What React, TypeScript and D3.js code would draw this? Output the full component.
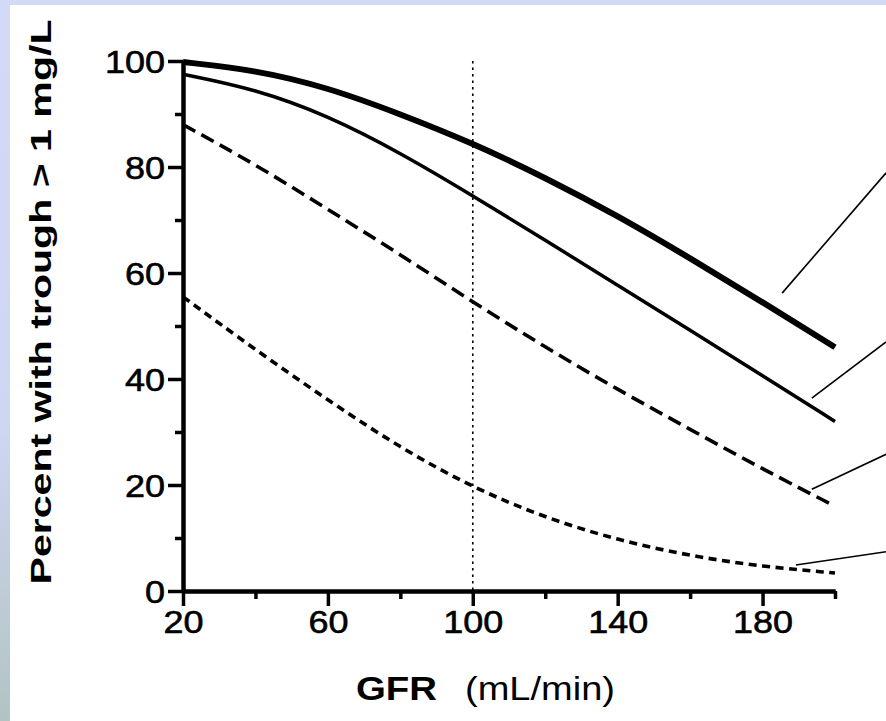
import React, { useEffect, useRef } from "react";
import * as d3 from "d3";

// GFR values (x) and percent with trough > 1 mg/L for the four curves
const gfr = [20, 40, 60, 80, 100, 120, 140, 160, 180, 200];
const thickLine = [99.8, 98.3, 95, 90, 84.5, 78, 70.8, 62.8, 54.5, 46];
const thinLine = [97.5, 94.7, 89.7, 82.7, 74.6, 66.2, 57.7, 49.2, 40.6, 32];
const dashedLine = [88, 80.5, 72, 63.5, 54.5, 46, 38, 30.5, 23, 16];
const dottedLine = [55.5, 45.5, 36, 27, 19.5, 13.8, 9.6, 6.6, 4.6, 3.4];

const xMajorTicks = [20, 60, 100, 140, 180];
const xMinorTicks = [40, 80, 120, 160, 200];
const yMajorTicks = [0, 20, 40, 60, 80, 100];
const yMinorTicks = [10, 30, 50, 70, 90];

// leader lines for the (off-picture) labels, in data units
const leaders = [
  [[185.4, 56.2], [214.1, 78.9]],
  [[193.6, 36.4], [214.1, 47.0]],
  [[193.6, 19.2], [214.1, 25.8]],
  [[189.2, 4.9], [214.1, 7.4]],
];

const W = 886;
const H = 721;

const App = () => {
  const ref = useRef<SVGSVGElement>(null);

  useEffect(() => {
    const svg = d3.select(ref.current);
    svg.selectAll("*").remove();

    const font = "'Liberation Sans', Arial, Helvetica, sans-serif";

    // backdrop
    const grad = svg.append("defs").append("linearGradient")
      .attr("id", "side").attr("x1", 0).attr("y1", 0).attr("x2", 0).attr("y2", 1);
    grad.append("stop").attr("offset", "0%").attr("stop-color", "#d3daf8");
    grad.append("stop").attr("offset", "60%").attr("stop-color", "#cdd6f2");
    grad.append("stop").attr("offset", "100%").attr("stop-color", "#b3c3c3");
    svg.append("rect").attr("width", W).attr("height", H).attr("fill", "#fff");
    svg.append("rect").attr("width", W).attr("height", 5).attr("fill", "#d3daf8");
    svg.append("rect").attr("width", 10).attr("height", H).attr("fill", "url(#side)");

    const x = d3.scaleLinear().domain([20, 200]).range([183, 835]);
    const y = d3.scaleLinear().domain([0, 100]).range([591, 61]);

    // vertical reference line at GFR 100
    svg.append("line")
      .attr("x1", x(100)).attr("x2", x(100))
      .attr("y1", y(100)).attr("y2", y(0))
      .attr("stroke", "#000").attr("stroke-width", 1.6)
      .attr("stroke-dasharray", "2.5,4");

    const line = d3.line<number>()
      .x((d, i) => x(gfr[i]))
      .y((d) => y(d))
      .curve(d3.curveBasis);

    const series = [
      { data: thickLine, width: 6, dash: null },
      { data: thinLine, width: 3.5, dash: null },
      { data: dashedLine, width: 3.6, dash: "14,7" },
      { data: dottedLine, width: 3.6, dash: "8,5.5" },
    ];
    series.forEach((s) => {
      svg.append("path")
        .attr("d", line(s.data))
        .attr("fill", "none")
        .attr("stroke", "#000")
        .attr("stroke-width", s.width)
        .attr("stroke-dasharray", s.dash);
    });

    // leader lines
    leaders.forEach((l) => {
      svg.append("line")
        .attr("x1", x(l[0][0])).attr("y1", y(l[0][1]))
        .attr("x2", x(l[1][0])).attr("y2", y(l[1][1]))
        .attr("stroke", "#000").attr("stroke-width", 1.6);
    });

    // axes
    const styleAxis = (g) => {
      g.select(".domain").attr("stroke-width", 4);
      g.selectAll(".tick line").attr("stroke-width", 3.5);
      g.selectAll(".tick text").remove();
    };

    svg.append("g").attr("transform", `translate(0,${y(0)})`)
      .call(d3.axisBottom(x).tickValues(xMinorTicks).tickSize(8).tickSizeOuter(0))
      .call(styleAxis);
    const xMaj = svg.append("g").attr("transform", `translate(0,${y(0)})`)
      .call(d3.axisBottom(x).tickValues(xMajorTicks).tickSize(15).tickSizeOuter(0));
    xMaj.select(".domain").attr("stroke-width", 4);
    xMaj.selectAll(".tick line").attr("stroke-width", 3.5);

    svg.append("g").attr("transform", `translate(${x(20)},0)`)
      .call(d3.axisLeft(y).tickValues(yMinorTicks).tickSize(8).tickSizeOuter(0))
      .call(styleAxis);
    const yMaj = svg.append("g").attr("transform", `translate(${x(20)},0)`)
      .call(d3.axisLeft(y).tickValues(yMajorTicks).tickSize(15).tickSizeOuter(0));
    yMaj.select(".domain").attr("stroke-width", 4);
    yMaj.selectAll(".tick line").attr("stroke-width", 3.5);

    xMaj.selectAll(".tick text")
      .attr("font-family", font).attr("font-size", 32).attr("fill", "#000")
      .attr("stroke", "#000").attr("stroke-width", 0.6)
      .attr("dy", null).attr("y", 42)
      .attr("textLength", (d) => String(d).length * 20)
      .attr("lengthAdjust", "spacingAndGlyphs");
    yMaj.selectAll(".tick text")
      .attr("font-family", font).attr("font-size", 32).attr("fill", "#000")
      .attr("stroke", "#000").attr("stroke-width", 0.6)
      .attr("x", -18).attr("dy", "0.36em")
      .attr("textLength", (d) => String(d).length * 20)
      .attr("lengthAdjust", "spacingAndGlyphs");

    // axis titles
    svg.append("text")
      .attr("transform", "translate(51,302) rotate(-90)")
      .attr("text-anchor", "middle")
      .attr("font-family", font).attr("font-size", 30).attr("font-weight", "bold")
      .attr("textLength", 565).attr("lengthAdjust", "spacingAndGlyphs")
      .text("Percent with trough > 1 mg/L");

    svg.append("text")
      .attr("x", 356).attr("y", 700)
      .attr("font-family", font).attr("font-size", 34).attr("font-weight", "bold")
      .attr("textLength", 81).attr("lengthAdjust", "spacingAndGlyphs")
      .text("GFR");
    svg.append("text")
      .attr("x", 465).attr("y", 700)
      .attr("font-family", font).attr("font-size", 33)
      .attr("textLength", 150).attr("lengthAdjust", "spacingAndGlyphs")
      .text("(mL/min)");
  }, []);

  return (
    <svg
      ref={ref}
      width={W}
      height={H}
      style={{ position: "absolute", left: 0, top: 0, display: "block" }}
    />
  );
};

export default App;
